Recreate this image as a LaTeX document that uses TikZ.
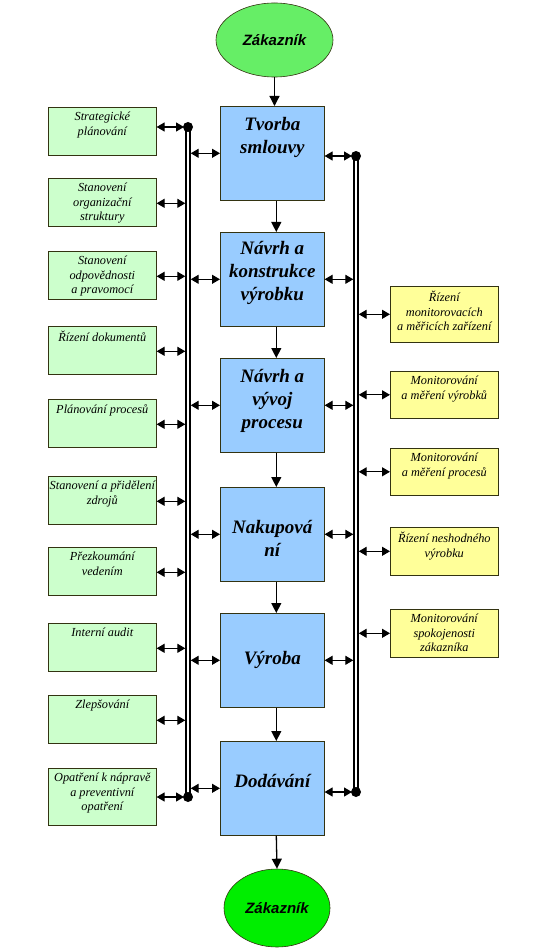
\documentclass[tikz,border=0pt]{standalone}
\usepackage{fontspec}
\setmainfont{Liberation Serif}
\newfontfamily\zsans{Liberation Sans}
\usetikzlibrary{arrows.meta,shapes.geometric}
\definecolor{procblue}{HTML}{99CCFF}
\definecolor{mgmtgreen}{HTML}{CCFFCC}
\definecolor{measyellow}{HTML}{FFFF99}
\definecolor{custtop}{HTML}{66EE66}
\definecolor{custbot}{HTML}{00EE00}
\definecolor{edgec}{HTML}{333311}
\begin{document}
\begin{tikzpicture}[x=1pt,y=-1pt,
  cust/.style={ellipse, draw=edgec, line width=0.6pt, inner sep=0pt,
    font=\zsans\bfseries\itshape\fontsize{15}{18}\selectfont},
  proc/.style={rectangle, draw=edgec, line width=0.6pt, fill=procblue,
    minimum width=104pt, minimum height=94pt, anchor=north west, inner sep=0pt},
  proctext/.style={align=center, inner sep=0pt,
    font=\bfseries\itshape\fontsize{19}{23}\selectfont},
  mgmt/.style={rectangle, draw=edgec, line width=0.6pt, fill=mgmtgreen,
    minimum width=108pt, minimum height=48pt, anchor=north west, inner sep=0pt},
  meas/.style={rectangle, draw=edgec, line width=0.6pt, fill=measyellow,
    minimum width=108pt, minimum height=47pt, anchor=north west, inner sep=0pt},
  smalltext/.style={align=center, inner sep=0pt, anchor=north,
    font=\itshape\fontsize{12.3}{14.5}\selectfont},
  flow/.style={-{Triangle[length=10pt,width=10pt]}, line width=1.3pt},
  dbl/.style={{Triangle[length=8pt,width=9pt]}-{Triangle[length=8pt,width=9pt]}, line width=1.2pt},
  bus/.style={double, double distance=2pt, line width=1.7pt, draw=black},
]
\useasboundingbox (0,0) rectangle (537,949);

% customers
\node[cust, fill=custtop, minimum width=117pt, minimum height=74pt] (c1) at (274.5,40) {Zákazník};
\node[cust, fill=custbot, minimum width=106pt, minimum height=78pt] (c2) at (277,908) {Zákazník};

% process boxes
\node[proc] (b1) at (220,106) {};
\node[proc] (b2) at (220,232) {};
\node[proc] (b3) at (220,358) {};
\node[proc] (b4) at (220,487) {};
\node[proc] (b5) at (220,613) {};
\node[proc] (b6) at (220,741) {};
\node[proctext] (t1) at ([yshift=16pt]b1.center) {Tvorba\\smlouvy};
\node[proctext] (t2) at ([yshift=6pt]b2.center) {Návrh a\\konstrukce\\výrobku};
\node[proctext] (t3) at ([yshift=4pt]b3.center) {Návrh a\\vývoj\\procesu};
\node[proctext] (t4) at ([yshift=-4pt]b4.center) {Nakupová\\ní};
\node[proctext] (t5) at (b5.center) {Výroba};
\node[proctext] (t6) at ([yshift=7pt]b6.center) {Dodávání};

% management boxes (left)
\node[mgmt] (m1) at (48,107) {};
\node[mgmt] (m2) at (48,178) {};
\node[mgmt] (m3) at (48,251) {};
\node[mgmt] (m4) at (48,326) {};
\node[mgmt] (m5) at (48,399) {};
\node[mgmt] (m6) at (48,476) {};
\node[mgmt] (m7) at (48,547) {};
\node[mgmt] (m8) at (48,623) {};
\node[mgmt] (m9) at (48,695) {};
\node[mgmt, minimum height=57pt] (m10) at (48,768) {};
\node[smalltext] (mt1) at ([yshift=-5pt]m1.north) {Strategické\\plánování};
\node[smalltext] (mt2) at ([yshift=-5pt]m2.north) {Stanovení\\organizační\\struktury};
\node[smalltext] (mt3) at ([yshift=-5pt]m3.north) {Stanovení\\odpovědnosti\\a pravomocí};
\node[smalltext] (mt4) at ([yshift=-5pt]m4.north) {Řízení dokumentů};
\node[smalltext] (mt5) at ([yshift=-5pt]m5.north) {Plánování procesů};
\node[smalltext] (mt6) at ([yshift=-5pt]m6.north) {Stanovení a přidělení\\zdrojů};
\node[smalltext] (mt7) at ([yshift=-5pt]m7.north) {Přezkoumání\\vedením};
\node[smalltext] (mt8) at ([yshift=-5pt]m8.north) {Interní audit};
\node[smalltext] (mt9) at ([yshift=-5pt]m9.north) {Zlepšování};
\node[smalltext] (mt10) at ([yshift=-5pt]m10.north) {Opatření k nápravě\\a preventivní\\opatření};

% measurement boxes (right)
\node[meas, minimum height=56pt] (q1) at (390,286) {};
\node[meas] (q2) at (390,371) {};
\node[meas] (q3) at (390,448) {};
\node[meas, minimum height=48pt] (q4) at (390,527) {};
\node[meas, minimum height=48pt] (q5) at (390,609) {};
\node[smalltext] (qt1) at ([yshift=-5pt]q1.north) {Řízení\\monitorovacích\\a měřicích zařízení};
\node[smalltext] (qt2) at ([yshift=-5pt]q2.north) {Monitorování\\a měření výrobků};
\node[smalltext] (qt3) at ([yshift=-5pt]q3.north) {Monitorování\\a měření procesů};
\node[smalltext] (qt4) at ([yshift=-5pt]q4.north) {Řízení neshodného\\výrobku};
\node[smalltext] (qt5) at ([yshift=-5pt]q5.north) {Monitorování\\spokojenosti\\zákazníka};

% bus coordinates
\coordinate (ltop) at (188,127);
\coordinate (lbot) at (188,797);
\coordinate (rtop) at (356,156);
\coordinate (rbot) at (356,792);
\coordinate (lbl) at (185.3,0);
\coordinate (lbr) at (190.7,0);
\coordinate (rbl) at (353.3,0);
\coordinate (rbr) at (358.7,0);

% buses
\draw[bus] (ltop) -- (lbot);
\draw[bus] (rtop) -- (rbot);
\fill (ltop) circle (5pt);
\fill (lbot) circle (5pt);
\fill (rtop) circle (5pt);
\fill (rbot) circle (5pt);

% main flow
\draw[flow] (c1.south) -- (c1.south |- b1.north);
\draw[flow] ([xshift=4pt]b1.south) -- ([xshift=4pt]b2.north);
\draw[flow] ([xshift=4pt]b2.south) -- ([xshift=4pt]b3.north);
\draw[flow] ([xshift=4pt]b3.south) -- ([xshift=4pt]b4.north);
\draw[flow] ([xshift=4pt]b4.south) -- ([xshift=4pt]b5.north);
\draw[flow] ([xshift=4pt]b5.south) -- ([xshift=4pt]b6.north);
\draw[flow] ([xshift=4pt]b6.south) -- (c2.north);

% left management arrows
\draw[dbl] (m1.east |- ltop) -- ([xshift=-4pt]ltop);
\foreach \i in {2,...,9} {
  \draw[dbl] ([yshift=-1pt]m\i.east) -- ([yshift=-1pt]m\i.east -| lbl);
}
\draw[dbl] (m10.east |- lbot) -- ([xshift=-4pt]lbot);

% left bus to process arrows
\foreach \i in {1,...,6} {
  \draw[dbl] (b\i.west -| lbr) -- (b\i.west);
}

% process to right bus arrows
\draw[dbl] (b1.east |- rtop) -- ([xshift=-4pt]rtop);
\foreach \i in {2,...,5} {
  \draw[dbl] (b\i.east) -- (b\i.east -| rbl);
}
\draw[dbl] (b6.east |- rbot) -- ([xshift=-4pt]rbot);

% right bus to measurement arrows
\foreach \i in {1,...,5} {
  \draw[dbl] (q\i.west -| rbr) -- (q\i.west);
}
\end{tikzpicture}
\end{document}
